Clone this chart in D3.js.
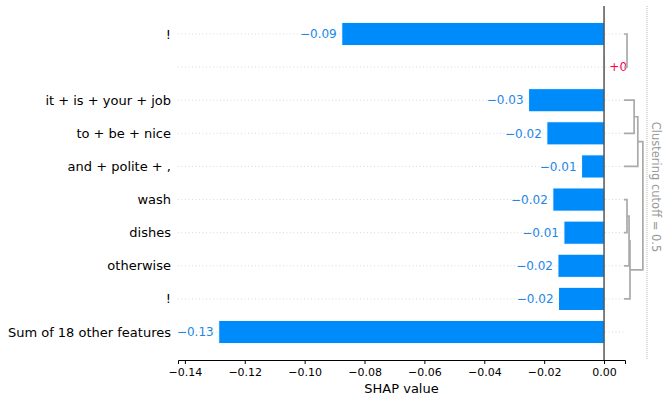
<!DOCTYPE html>
<html><head><meta charset="utf-8">
<script src="https://cdn.jsdelivr.net/npm/d3@7"></script>
<style>body{margin:0;background:#fff}svg{display:block;font-family:"DejaVu Sans",sans-serif}</style>
</head><body><svg id="c" width="669" height="401"></svg>
<script>
const features = ["!", "", "it + is + your + job", "to + be + nice", "and + polite + ,", "wash", "dishes", "otherwise", "!", "Sum of 18 other features"];
const shapValues = [-0.0876, 0.0001, -0.0252, -0.0191, -0.0075, -0.0171, -0.0134, -0.0154, -0.0152, -0.1287];
const xTicks = [-0.14, -0.12, -0.10, -0.08, -0.06, -0.04, -0.02, 0.00];
// dendrogram merges: [childA, childB, distance]; leaves 0..8, new ids from 9
const merges = [[0,1,0.065],[2,3,0.22],[10,4,0.30],[5,6,0.065],[12,7,0.11],[13,8,0.13],[11,14,0.41]];
const cutoff = 0.5;

const svg = d3.select("#c");
const x = d3.scaleLinear().domain([-0.1423, 0.007]).range([178, 625]);
const y = d3.scaleLinear().domain([-0.845, 9.845]).range([6, 360]);
const dx = d3.scaleLinear().domain([0, cutoff]).range([624, 647]);
const rowH = y(1) - y(0);
const blue = "#008bfb", red = "#ff0051";

// grid lines
svg.append("g").selectAll("line").data(features).join("line")
  .attr("x1", x.range()[0]).attr("x2", x.range()[1])
  .attr("y1", (d,i)=>y(i)).attr("y2", (d,i)=>y(i))
  .attr("stroke", "#d0d0d0").attr("stroke-width", 0.8).attr("stroke-dasharray", "1,2.5");

// bars
svg.append("g").selectAll("rect").data(shapValues).join("rect")
  .attr("x", d=>Math.min(x(d), x(0))).attr("width", d=>Math.abs(x(d)-x(0)))
  .attr("y", (d,i)=>y(i)-rowH*0.35).attr("height", rowH*0.7)
  .attr("fill", d=> d<0 ? blue : red).attr("stroke", "#fff").attr("stroke-width", 1);

// value labels
function fmtVal(v){ let s = d3.format("+.2f")(v); s = s.replace(/\.?0+$/, ""); return s; }
svg.append("g").selectAll("text").data(shapValues).join("text")
  .attr("x", d=> d<0 ? x(d)-5 : x(d)+5)
  .attr("y", (d,i)=>y(i)).attr("dy", "0.35em")
  .attr("text-anchor", d=> d<0 ? "end" : "start")
  .attr("font-size", 12).attr("fill", d=> d<0 ? "#1E88E5" : red)
  .text(d=>fmtVal(d).replace("-", "\u2212"));

// y labels
svg.append("g").selectAll("text").data(features).join("text")
  .attr("x", 171).attr("y", (d,i)=>y(i)).attr("dy", "0.35em")
  .attr("text-anchor", "end").attr("font-size", 13).attr("fill", "#000").text(d=>d);

// zero line
svg.append("line").attr("x1", x(0)).attr("x2", x(0)).attr("y1", y.range()[0]).attr("y2", y.range()[1])
  .attr("stroke", "#000").attr("stroke-width", 1);

// dendrogram
const nodes = [];
for (let i=0;i<9;i++) nodes.push({y:y(i), d:0});
const dg = svg.append("g").attr("fill","none").attr("stroke","#aaaaaa").attr("stroke-width",1.7);
merges.forEach(([a,b,dist])=>{
  const A=nodes[a], B=nodes[b];
  dg.append("path").attr("d",
    `M${dx(A.d)},${A.y}H${dx(dist)}V${B.y}H${dx(B.d)}`);
  nodes.push({y:(A.y+B.y)/2, d:dist});
});

// cutoff line & text
svg.append("line").attr("x1", dx(cutoff)).attr("x2", dx(cutoff)).attr("y1", y.range()[0]).attr("y2", y.range()[1])
  .attr("stroke", "#d0d0d0").attr("stroke-width", 1.5).attr("stroke-dasharray", "1,1");
svg.append("text").attr("transform", `translate(${dx(cutoff)+5},187) rotate(90)`)
  .attr("text-anchor","middle").attr("font-size",11.5).attr("fill","#999")
  .text("Clustering cutoff = " + cutoff);

// x axis
const ax = svg.append("g").attr("transform", `translate(0,${y.range()[1]})`)
  .call(d3.axisBottom(x).tickValues(xTicks).tickFormat(d3.format(".2f")).tickSizeOuter(0).tickSize(4).tickPadding(4));
ax.select(".domain").attr("stroke","#000");
ax.selectAll(".tick line").attr("stroke","#000");
ax.selectAll("text").attr("font-size",11).attr("fill","#000").attr("font-family","DejaVu Sans");
svg.append("text").attr("x", (x.range()[0]+x.range()[1])/2).attr("y", 392.5)
  .attr("text-anchor","middle").attr("font-size",13).attr("fill","#000").text("SHAP value");
</script></body></html>
